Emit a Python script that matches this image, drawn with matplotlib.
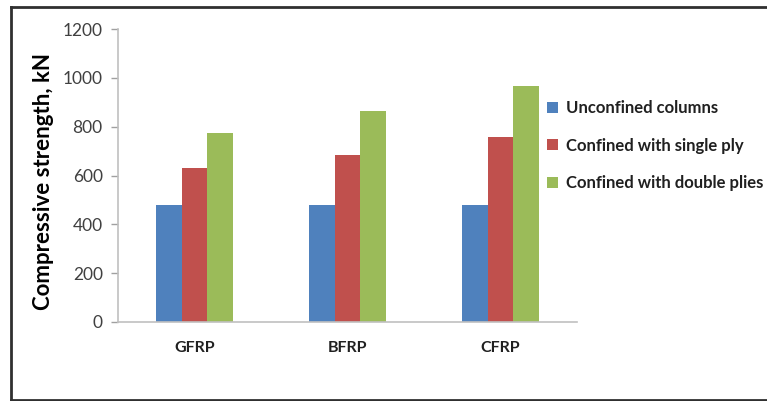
import matplotlib
matplotlib.use("Agg")
import matplotlib.pyplot as plt
import numpy as np
from matplotlib.lines import Line2D

plt.rcParams['font.family'] = ['Lato', 'DejaVu Sans']

categories = ["GFRP", "BFRP", "CFRP"]
series_names = ["Unconfined columns", "Confined with single ply", "Confined with double plies"]
unconfined = [480, 480, 480]
single_ply = [632, 685, 756]
double_plies = [775, 864, 968]
colors = ["#4F81BD", "#C0504D", "#9BBB59"]
yticks = [0, 200, 400, 600, 800, 1000, 1200]

W, H = 767, 401
fig = plt.figure(figsize=(W / 100, H / 100), dpi=100)
ax = fig.add_axes([118 / W, 1 - 322 / H, (577 - 118) / W, (322 - 29) / H])

x = np.arange(len(categories))
bw = 0.167
for i, (vals, name, c) in enumerate(zip([unconfined, single_ply, double_plies], series_names, colors)):
    ax.bar(x + (i - 1) * bw, vals, width=bw, color=c, label=name, zorder=2)

ax.set_xlim(-0.5, len(categories) - 0.5)
ax.set_ylim(0, 1200)
ax.set_yticks(yticks)
ax.set_yticklabels([str(v) for v in yticks], fontsize=12.5, color="#404040")
ax.set_xticks(x)
ax.set_xticklabels(categories, fontsize=11.5, fontweight="bold", color="#202020")
ax.tick_params(axis="x", length=0, pad=14)
ax.tick_params(axis="y", length=5, color="#A0A0A0", width=1, pad=6)
for s in ["top", "right"]:
    ax.spines[s].set_visible(False)
for s in ["left", "bottom"]:
    ax.spines[s].set_color("#C0C0C0")
    ax.spines[s].set_linewidth(1.2)
ax.set_ylabel("Compressive strength, kN", fontsize=16, fontweight="bold")
ax.yaxis.set_label_coords((54 - 118) / (577 - 118), (322 - 181) / (322 - 29))

leg = ax.legend(loc="upper left", bbox_to_anchor=(547 / W, 1 - 100 / H), bbox_transform=fig.transFigure,
                frameon=False, fontsize=12, handlelength=0.65, handleheight=0.65,
                handletextpad=0.5, labelspacing=1.3, borderaxespad=0, borderpad=0)
for t in leg.get_texts():
    t.set_fontweight("bold")
    t.set_color("#202020")

# outer chart frame
fig.add_artist(Line2D([11 / W, 11 / W], [0, 1 - 7 / H], transform=fig.transFigure, color="#303030", lw=2))
fig.add_artist(Line2D([11 / W, 1], [1 - 7 / H, 1 - 7 / H], transform=fig.transFigure, color="#303030", lw=2))
fig.add_artist(Line2D([11 / W, 1], [1.5 / H, 1.5 / H], transform=fig.transFigure, color="#303030", lw=2))

fig.savefig("out.png", dpi=100)
